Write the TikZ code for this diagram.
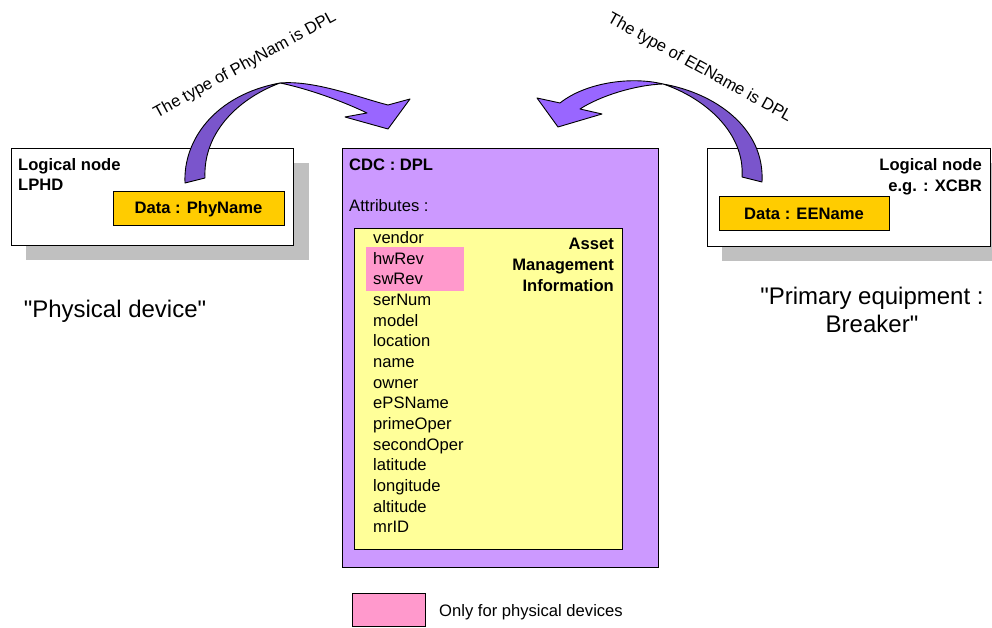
\documentclass[tikz,border=0pt]{standalone}
\usepackage{fontspec}
\setmainfont{Liberation Sans}
\newfontfamily\plainsans{Liberation Sans}
\definecolor{cdcfill}{HTML}{CC99FF}
\definecolor{attrfill}{HTML}{FFFF99}
\definecolor{pinkfill}{HTML}{FF99CC}
\definecolor{datafill}{HTML}{FFCC00}
\definecolor{shadowgray}{HTML}{C0C0C0}
\definecolor{arrowdark}{HTML}{7A55CC}
\definecolor{arrowlight}{HTML}{9966FF}
\newcommand\fsn{\fontsize{16.6}{20}\selectfont}
\newcommand\fsb{\fontsize{16.6}{20}\selectfont\bfseries}
\newcommand\fsl{\plainsans\fontsize{24}{28}\selectfont}
\begin{document}
\begin{tikzpicture}[x=1pt,y=1pt,
  boxline/.style={draw=black,line width=1.2pt,inner sep=0pt},
  plain/.style={font=\fsn,inner sep=0pt},
  bold/.style={font=\fsb,inner sep=0pt},
  large/.style={font=\fsl,inner sep=0pt},
  arrowpart/.style={draw=black,line width=0.9pt,line join=round}]
\useasboundingbox (0,0) rectangle (992,628);

% shadows
\fill[shadowgray] (26,368) rectangle (309,465);
\fill[shadowgray] (722,367) rectangle (992,465);

% logical node boxes
\node[boxline,fill=white,anchor=north west,minimum width=282pt,minimum height=97pt] (lbox) at (11,480) {};
\node[boxline,fill=white,anchor=north west,minimum width=283pt,minimum height=98pt] (rbox) at (707,480) {};

% CDC box
\node[boxline,fill=cdcfill,anchor=north west,minimum width=316pt,minimum height=419pt] (cdc) at (342,480) {};
\node[boxline,fill=attrfill,anchor=north west,minimum width=268pt,minimum height=321pt] (attr) at (354,400) {};
\node[fill=pinkfill,inner sep=0pt,anchor=north west,minimum width=98pt,minimum height=44pt] (phys) at (366,381) {};

% arrows
\fill[arrowdark,arrowpart] (185,445) .. controls (183,488) and (215,533) .. (280,545)
  .. controls (235,528) and (203,493) .. (205,450) -- cycle;
\fill[arrowlight,arrowpart] (280,545) .. controls (315,548) and (360,530) .. (388,523)
  -- (410,529) -- (388,499) -- (345,511) -- (367,515)
  .. controls (340,528) and (305,540) .. (280,545) -- cycle;
\fill[arrowlight,arrowpart] (663,544) .. controls (630,552) and (585,545) .. (560,525)
  -- (537,530) -- (558,501) -- (602,514) -- (580,519)
  .. controls (600,532) and (635,543) .. (663,544) -- cycle;
\fill[arrowdark,arrowpart] (663,544) .. controls (715,535) and (765,500) .. (762,446)
  -- (742,451) .. controls (745,495) and (705,530) .. (663,544) -- cycle;

% data boxes
\node[boxline,line width=1pt,fill=datafill,minimum width=171pt,minimum height=34pt,font=\fsb] (dphy) at (198.5,419) {Data : PhyName};
\node[boxline,line width=1pt,fill=datafill,minimum width=170pt,minimum height=34pt,font=\fsb] (dee) at (804,414) {Data : EEName};

% arrow labels
\node[plain,rotate=28.6,anchor=base] (lbl1) at (247,559) {The type of PhyNam is DPL};
\node[plain,rotate=-29,anchor=base] (lbl2) at (697.5,556) {The type of EEName is DPL};

% logical node titles
\node[bold,anchor=base west] (lt1) at (18,457) {Logical node};
\node[bold,anchor=base west] (lt2) at (18,437) {LPHD};
\node[bold,anchor=base east] (rt1) at (982,457) {Logical node};
\node[bold,anchor=base east] (rt2) at (982,436) {e.g. : XCBR};

% CDC texts
\node[bold,anchor=base west] (cdct) at (349,457.3) {CDC : DPL};
\node[plain,anchor=base west] (attrt) at (349,416.3) {Attributes :};
\node[bold,anchor=base east] (ami1) at (614,378) {Asset};
\node[bold,anchor=base east] (ami2) at (614,357) {Management};
\node[bold,anchor=base east] (ami3) at (614,336) {Information};

\foreach \t [count=\i from 0] in {vendor,hwRev,swRev,serNum,model,location,name,owner,ePSName,primeOper,secondOper,latitude,longitude,altitude,mrID}
  \node[plain,anchor=base west] (item\i) at (373,{384.5-20.66*\i}) {\t};

% captions
\node[large,anchor=base] (cphys) at (115,310) {"Physical device"};
\node[large,anchor=base] (cprim1) at (872,323) {"Primary equipment :};
\node[large,anchor=base] (cprim2) at (872,295) {Breaker"};

% legend
\node[boxline,line width=1pt,fill=pinkfill,anchor=south west,minimum width=73pt,minimum height=33pt] (legbox) at (352,1) {};
\node[plain,anchor=base west] (legtxt) at (439,11.5) {Only for physical devices};
\end{tikzpicture}
\end{document}
